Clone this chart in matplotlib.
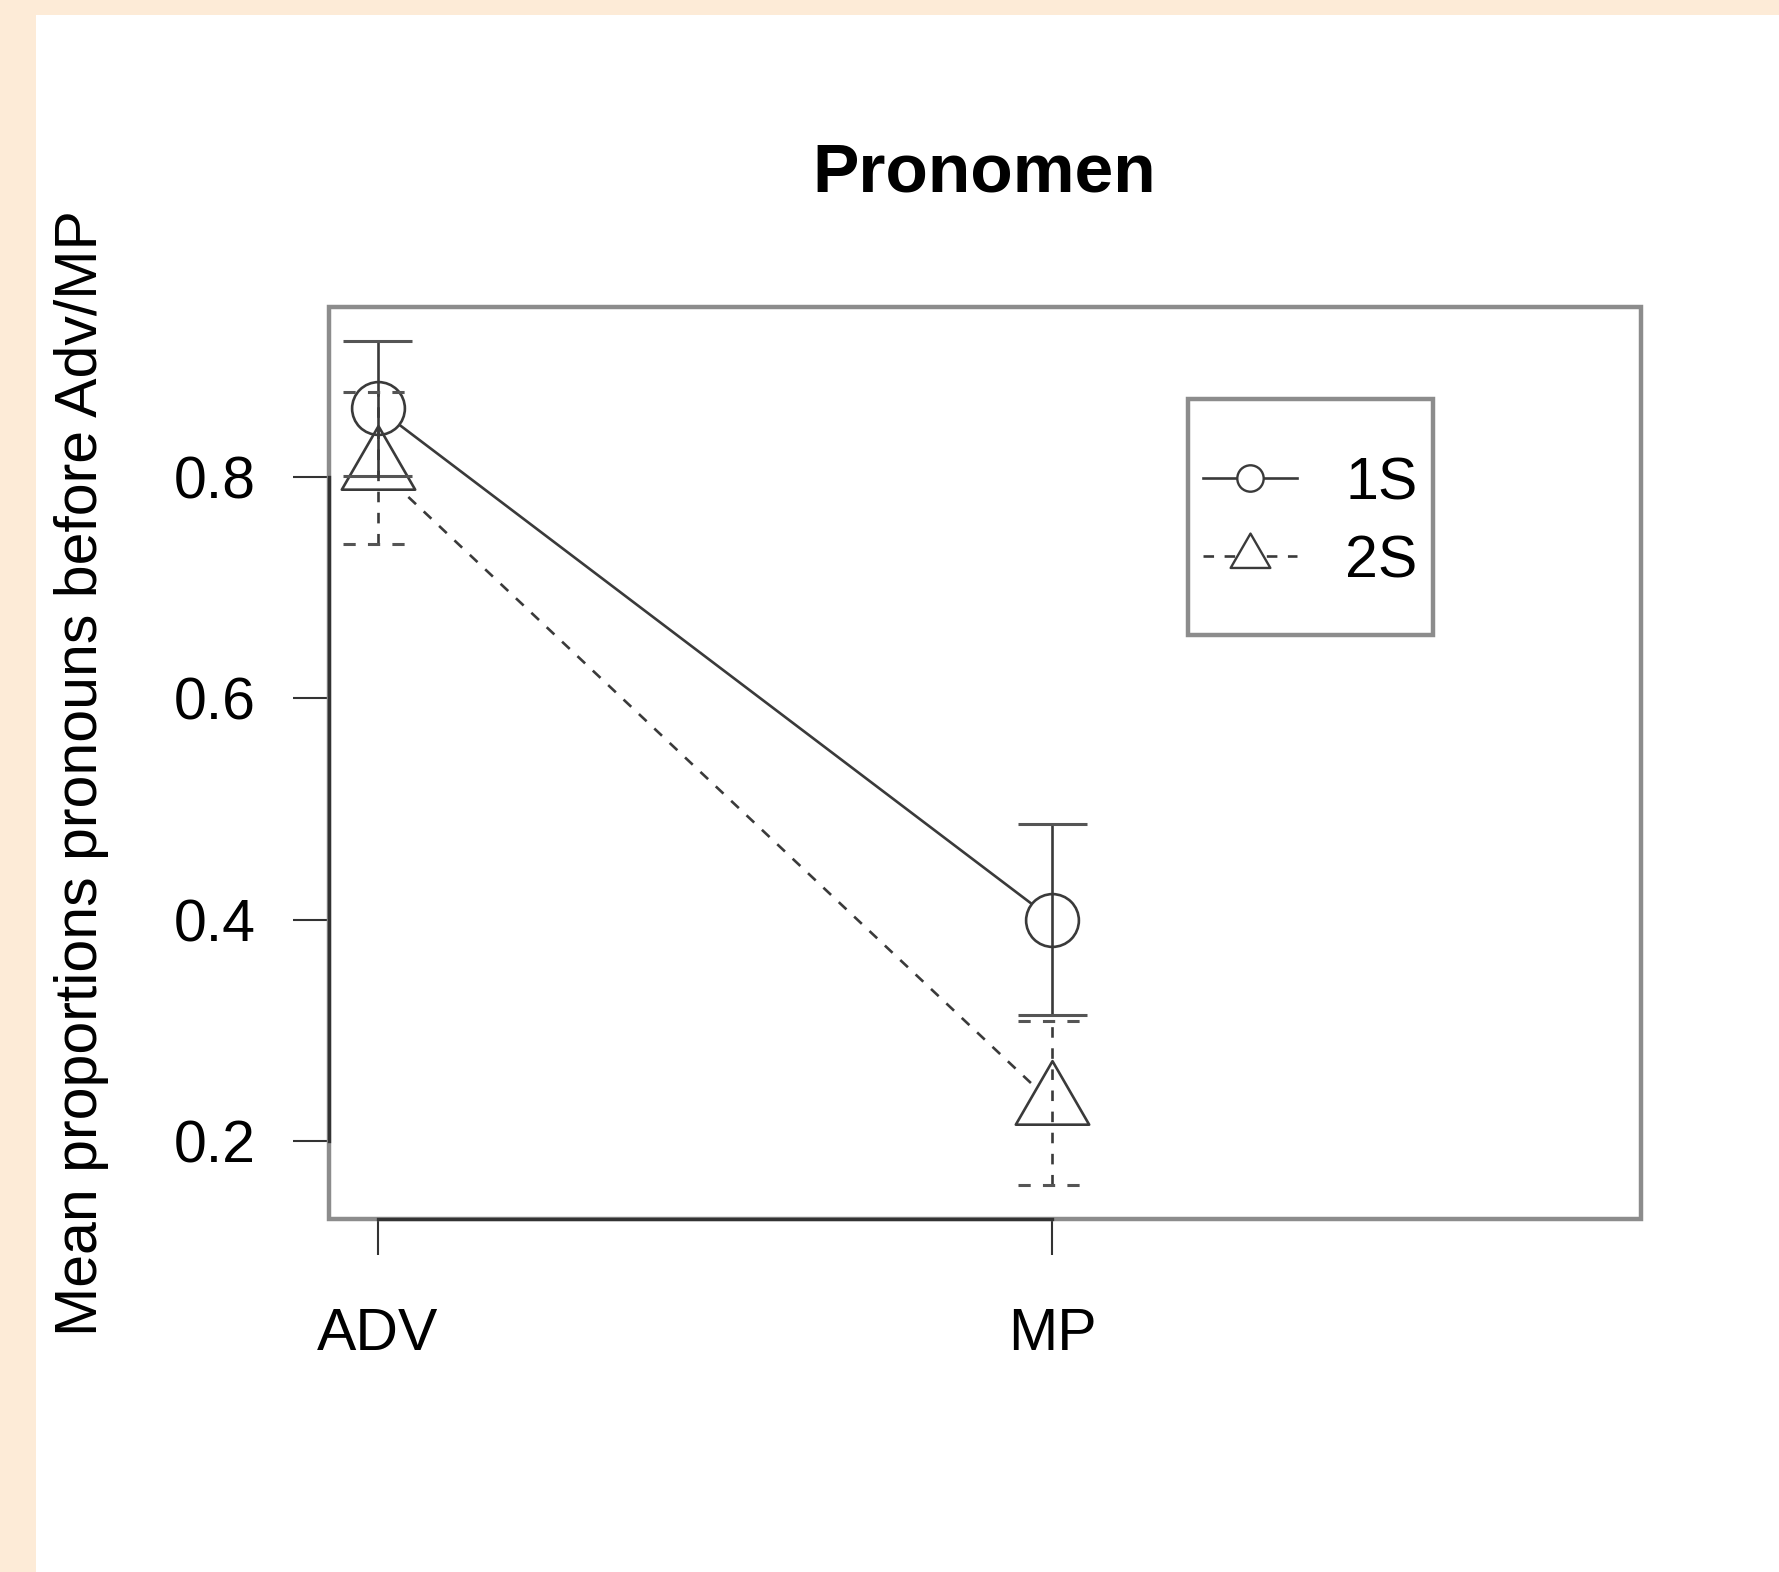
import matplotlib
matplotlib.use("Agg")
import matplotlib.pyplot as plt
from matplotlib.patches import Rectangle
from matplotlib.path import Path
import numpy as np

plt.rcParams['font.family'] = ['Liberation Sans', 'DejaVu Sans']

# ---- data ----
categories = ["ADV", "MP"]
series_names = ["1S", "2S"]
mean_1s = [0.862, 0.400]
err_1s = [0.061, 0.086]
mean_2s = [0.808, 0.234]
err_2s = [0.069, 0.074]
yticks = [0.2, 0.4, 0.6, 0.8]
ytick_labels = ["0.2", "0.4", "0.6", "0.8"]
title = "Pronomen"
ylabel = "Mean proportions pronouns before Adv/MP"

W, H = 1779, 1572
dpi = 100
fig = plt.figure(figsize=(W / dpi, H / dpi), dpi=dpi, facecolor="#fdebd7")
# white panel (peach margin on top and left)
fig.patches.append(Rectangle((36 / W, 0), 1 - 36 / W, 1 - 15 / H,
                             transform=fig.transFigure, facecolor="white",
                             edgecolor="none", zorder=-10))

ax_l, ax_r, ax_t, ax_b = 329, 1641, 307, 1219
ax = fig.add_axes([ax_l / W, 1 - ax_b / H, (ax_r - ax_l) / W, (ax_b - ax_t) / H])
ax.set_facecolor("none")
ax.set_zorder(1)

x = np.arange(1, len(categories) + 1)
lc = "#3a3a3a"

# triangle marker centred on centroid
tri = Path([(-1, -0.57735), (1, -0.57735), (0, 1.1547), (-1, -0.57735)],
           [Path.MOVETO, Path.LINETO, Path.LINETO, Path.CLOSEPOLY])

dash = (0, (4, 4))

# lines (with gaps at the points, R type="b"), then marker outlines
ax.plot(x, mean_1s, color=lc, lw=1.9, zorder=2)
ax.plot(x, mean_2s, color=lc, lw=1.9, linestyle=dash, zorder=2)
for vals, mk, ms in [(mean_1s, "o", 38), (mean_2s, tri, 61)]:
    ax.plot(x, vals, linestyle="none", marker=mk, ms=ms, mfc="white",
            mec="none", zorder=3)
for vals, mk, ms in [(mean_1s, "o", 38), (mean_2s, tri, 61)]:
    ax.plot(x, vals, linestyle="none", marker=mk, ms=ms, mfc="none",
            mec=lc, mew=1.9, zorder=4)

# error bars
cap_hw = 0.051
m1 = np.array(mean_1s); e1 = np.array(err_1s)
m2 = np.array(mean_2s); e2 = np.array(err_2s)
ax.vlines(x, m1 - e1, m1 + e1, colors=lc, lw=1.9, zorder=5)
ax.hlines(np.concatenate([m1 - e1, m1 + e1]), np.tile(x, 2) - cap_hw,
          np.tile(x, 2) + cap_hw, colors="#555555", lw=2.2, zorder=5)
ax.vlines(x, m2 - e2, m2 + e2, colors=lc, lw=1.9, linestyles=[dash], zorder=5)
ax.hlines(np.concatenate([m2 - e2, m2 + e2]), np.tile(x, 2) - cap_hw,
          np.tile(x, 2) + cap_hw, colors="#555555", lw=2.2,
          linestyles=[dash], zorder=5)

# limits (R style 4% extension)
lo = min((m1 - e1).min(), (m2 - e2).min())
hi = max((m1 + e1).max(), (m2 + e2).max())
ax.set_ylim(lo - 0.04 * (hi - lo), hi + 0.04 * (hi - lo))
ax.set_xlim(1 - 0.04 * 1.8, 2.8 + 0.04 * 1.8)

# box + axis lines
for s in ["top", "right"]:
    ax.spines[s].set_visible(False)
ax.spines["left"].set_bounds(yticks[0], yticks[-1])
ax.spines["bottom"].set_bounds(x[0], x[-1])
for s in ["left", "bottom"]:
    ax.spines[s].set_color("#333333")
    ax.spines[s].set_linewidth(2.4)
    ax.spines[s].set_zorder(7)
ax.add_patch(Rectangle((0, 0), 1, 1, transform=ax.transAxes, fill=False,
                       edgecolor="#8c8c8c", lw=3.2, zorder=6, clip_on=False))

ax.set_xticks(x)
ax.set_xticklabels(categories)
ax.set_yticks(yticks)
ax.set_yticklabels(ytick_labels)
ax.tick_params(axis="both", direction="out", length=26, width=1.5,
               color="#333333", labelsize=42.5)
ax.tick_params(axis="x", pad=37)
ax.tick_params(axis="y", pad=27)

fig.text(984 / W, 1 - 192 / H, title, ha="center", va="baseline",
         fontsize=50, fontweight="bold")
fig.text(82 / W, 1 - 773 / H, ylabel, ha="center", va="center",
         rotation=90, fontsize=42.5)

# legend (drawn manually to match R layout)
def axx(px):
    return (px - ax_l) / (ax_r - ax_l)

def axy(py):
    return (ax_b - py) / (ax_b - ax_t)

ax.add_patch(Rectangle((axx(1188), axy(635)), axx(1433) - axx(1188),
                       axy(399) - axy(635), transform=ax.transAxes,
                       facecolor="white", edgecolor="#8c8c8c", lw=3.2,
                       zorder=8))
rows = [axy(478), axy(556)]
styles = [("-", "o", 19), (dash, tri, 33)]
for name, yy, (ls, mk, ms) in zip(series_names, rows, styles):
    ax.plot([axx(1203), axx(1297)], [yy, yy], transform=ax.transAxes,
            color=lc, lw=1.9, linestyle=ls, zorder=9, clip_on=False)
    ax.plot([axx(1250)], [yy], transform=ax.transAxes, marker=mk, ms=ms,
            mfc="white", mec=lc, mew=1.7, linestyle="none", zorder=10,
            clip_on=False)
    ax.text(axx(1345), yy, name, transform=ax.transAxes, ha="left",
            va="center_baseline", fontsize=42.5, zorder=10)

fig.savefig("out.png", dpi=dpi, facecolor=fig.get_facecolor())
